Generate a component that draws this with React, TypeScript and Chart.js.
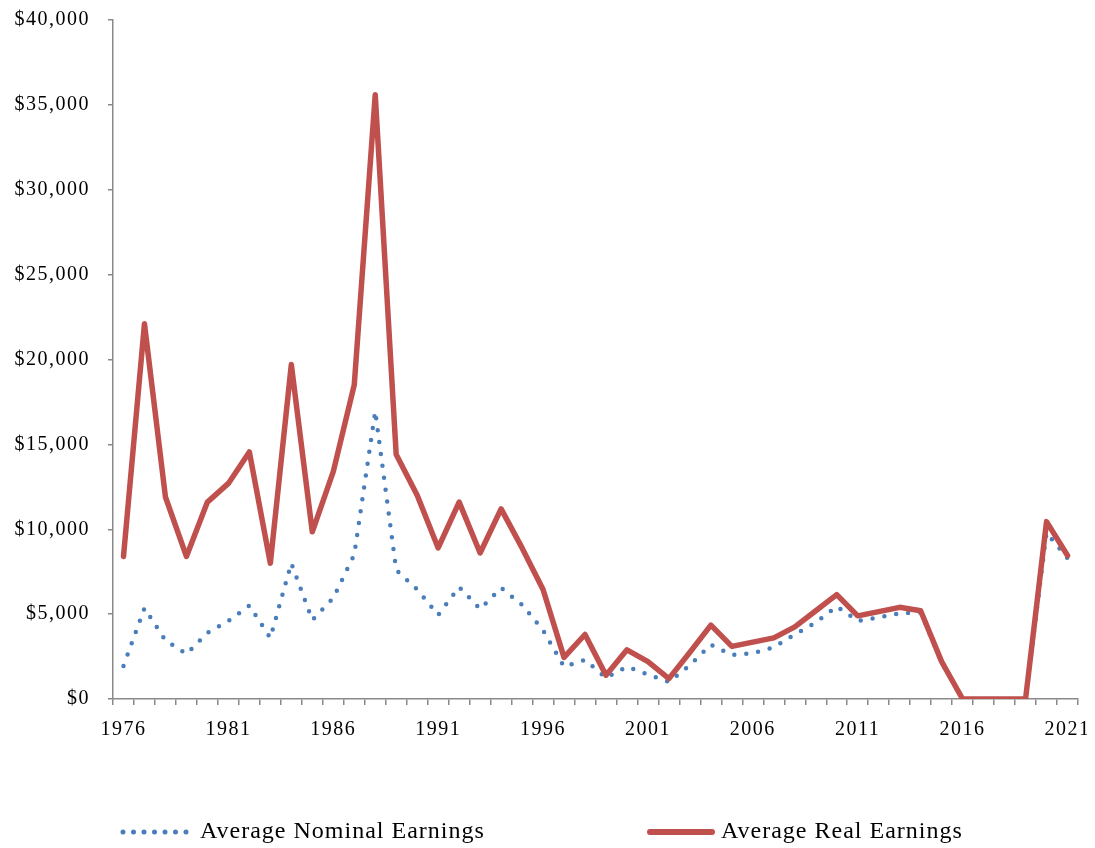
import React, { useEffect, useRef } from "react";
import { Chart, registerables } from "chart.js";

Chart.register(...registerables);

const years = [
  "1976", "1977", "1978", "1979", "1980", "1981", "1982", "1983", "1984", "1985",
  "1986", "1987", "1988", "1989", "1990", "1991", "1992", "1993", "1994", "1995",
  "1996", "1997", "1998", "1999", "2000", "2001", "2002", "2003", "2004", "2005",
  "2006", "2007", "2008", "2009", "2010", "2011", "2012", "2013", "2014", "2015",
  "2016", "2017", "2018", "2019", "2020", "2021",
];

const xTickLabels = ["1976", "1981", "1986", "1991", "1996", "2001", "2006", "2011", "2016", "2021"];

const nominalEarnings = [
  1950, 5350, 3450, 2650, 3900, 4600, 5500, 3600, 8000, 4650,
  5950, 8500, 16950, 7600, 6450, 4950, 6600, 5300, 6550, 5550,
  4050, 1900, 2300, 1250, 1900, 1450, 1000, 2000, 3200, 2600,
  2700, 3050, 3800, 4500, 5450, 4600, 4800, 5050, 5100, 2150,
  0, 0, 0, 0, 9800, 8300,
];

const realEarnings = [
  8400, 22100, 11900, 8400, 11600, 12700, 14550, 8000, 19700, 9850,
  13400, 18500, 35600, 14400, 12000, 8900, 11600, 8600, 11200, 8900,
  6450, 2450, 3800, 1400, 2900, 2200, 1200, 2750, 4350, 3100,
  3350, 3600, 4250, 5200, 6150, 4900, 5150, 5400, 5200, 2200,
  0, 0, 0, 0, 10450, 8450,
];

const seriesNames = ["Average Nominal Earnings", "Average Real Earnings"];

const yMin = 0;
const yMax = 40000;
const yStep = 5000;

const FONT = "'Liberation Serif', 'Times New Roman', serif";
const BLUE = "#4A7EBB";
const RED = "#C0504D";
const AXIS = "#898989";

if (typeof document !== "undefined") {
  document.body.style.margin = "0";
}

const spacingPlugin = {
  id: "letterSpacing",
  beforeLayout(chart: any) {
    (chart.ctx as any).letterSpacing = "1.5px";
  },
  beforeDraw(chart: any) {
    (chart.ctx as any).letterSpacing = "1.5px";
  },
};

const legendPlugin = {
  id: "bottomLegend",
  afterDraw(chart: any) {
    const ctx = chart.ctx as CanvasRenderingContext2D;
    const left = chart.chartArea.left;
    const y = chart.chartArea.bottom + 133;
    ctx.save();
    (ctx as any).letterSpacing = "1px";
    // nominal sample (dotted)
    ctx.beginPath();
    ctx.strokeStyle = BLUE;
    ctx.lineWidth = 5;
    ctx.lineCap = "round";
    ctx.setLineDash([0, 10.5]);
    ctx.moveTo(left + 10, y);
    ctx.lineTo(left + 74, y);
    ctx.stroke();
    // real sample (solid)
    ctx.beginPath();
    ctx.setLineDash([]);
    ctx.strokeStyle = RED;
    ctx.lineWidth = 6;
    ctx.moveTo(left + 537, y);
    ctx.lineTo(left + 599, y);
    ctx.stroke();
    ctx.fillStyle = "#000";
    ctx.font = `24px ${FONT}`;
    ctx.textBaseline = "middle";
    ctx.textAlign = "left";
    ctx.fillText(seriesNames[0], left + 87, y);
    ctx.fillText(seriesNames[1], left + 608, y);
    ctx.restore();
  },
};

export default function App() {
  const canvasRef = useRef<HTMLCanvasElement | null>(null);

  useEffect(() => {
    if (!canvasRef.current) return;
    const chart = new Chart(canvasRef.current, {
      type: "line",
      data: {
        labels: years,
        datasets: [
          {
            label: seriesNames[0],
            data: nominalEarnings,
            borderColor: BLUE,
            backgroundColor: BLUE,
            borderWidth: 4.5,
            borderDash: [0, 12],
            borderCapStyle: "round",
            borderJoinStyle: "round",
            pointRadius: 0,
            tension: 0,
            order: 2,
          },
          {
            label: seriesNames[1],
            data: realEarnings,
            borderColor: RED,
            backgroundColor: RED,
            borderWidth: 5.5,
            borderCapStyle: "round",
            borderJoinStyle: "round",
            pointRadius: 0,
            tension: 0,
            order: 1,
          },
        ],
      },
      options: {
        animation: false,
        responsive: true,
        maintainAspectRatio: false,
        layout: { padding: { left: 0, right: 9, top: 12, bottom: 0 } },
        plugins: {
          legend: { display: false },
          tooltip: { enabled: false },
        },
        scales: {
          x: {
            type: "category",
            offset: true,
            grid: {
              display: true,
              offset: true,
              drawOnChartArea: false,
              drawTicks: true,
              tickLength: 6,
              color: AXIS,
              lineWidth: 1.5,
            },
            border: { display: true, color: AXIS, width: 1.5 },
            ticks: {
              autoSkip: false,
              maxRotation: 0,
              minRotation: 0,
              padding: 13,
              color: "#000",
              font: { family: FONT, size: 20 },
              callback: (_v: any, i: number) =>
                xTickLabels.includes(years[i]) ? years[i] : "",
            },
            afterFit: (scale: any) => {
              scale.height = 149;
              scale.paddingLeft = 0;
              scale.paddingRight = 0;
            },
          },
          y: {
            min: yMin,
            max: yMax,
            grid: {
              display: true,
              drawOnChartArea: false,
              drawTicks: true,
              tickLength: 5,
              color: AXIS,
              lineWidth: 1.5,
            },
            border: { display: true, color: AXIS, width: 1.5 },
            ticks: {
              stepSize: yStep,
              padding: 18,
              color: "#000",
              font: { family: FONT, size: 20 },
              callback: (v: any) => "$" + Number(v).toLocaleString("en-US"),
            },
            afterFit: (scale: any) => {
              scale.width = 105;
              scale.paddingTop = 0;
              scale.paddingBottom = 0;
            },
          },
        },
      },
      plugins: [spacingPlugin, legendPlugin],
    });
    return () => chart.destroy();
  }, []);

  return (
    <div style={{ width: 1095, height: 848, padding: "8px 8px 0 8px", boxSizing: "border-box", background: "#fff" }}>
      <div style={{ position: "relative", width: 1079, height: 840 }}>
        <canvas ref={canvasRef} />
      </div>
    </div>
  );
}
